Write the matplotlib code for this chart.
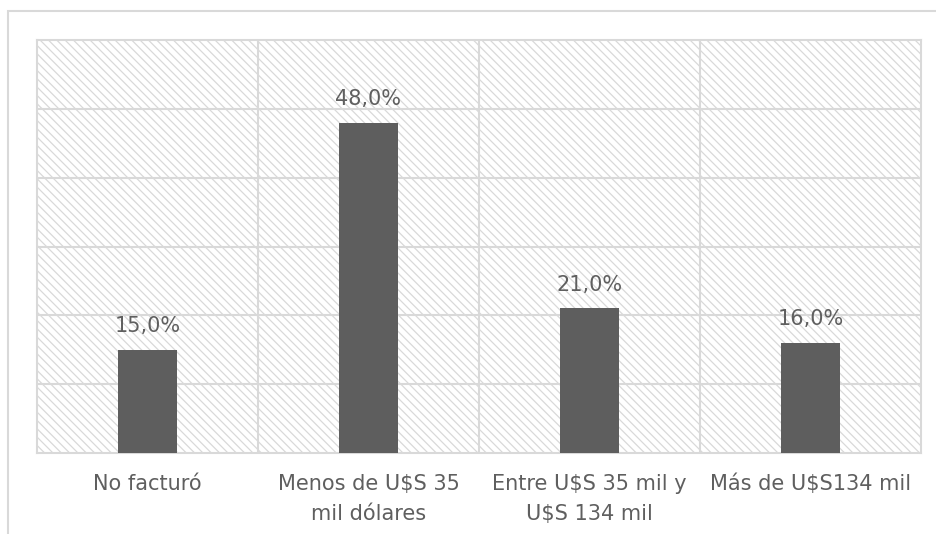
import matplotlib.pyplot as plt
from matplotlib.patches import Rectangle

categories = ['No facturó', 'Menos de U$S 35\nmil dólares',
              'Entre U$S 35 mil y\nU$S 134 mil', 'Más de U$S134 mil']
values = [15.0, 48.0, 21.0, 16.0]

plt.rcParams['hatch.linewidth'] = 0.9
plt.rcParams['hatch.color'] = '#d6d6d6'

text_color = '#5f5f5f'
grid_color = '#d9d9d9'
bar_color = '#5e5e5e'

fig = plt.figure(figsize=(9.37, 5.34), dpi=100)
ax = fig.add_axes([37 / 937, 1 - 453 / 534, (921 - 37) / 937, (453 - 40) / 534])

# hatched plot area background
ax.add_patch(Rectangle((0, 0), 1, 1, transform=ax.transAxes, facecolor='white',
                       edgecolor=grid_color, hatch='\\\\\\\\', linewidth=0, zorder=0))

x = range(len(categories))
ax.bar(x, values, width=0.27, color=bar_color, zorder=3)

for xi, v in zip(x, values):
    ax.annotate(f'{v:.1f}%'.replace('.', ','), (xi, v), xytext=(0, 10),
                textcoords='offset points', ha='center', va='bottom',
                fontsize=15, color=text_color, zorder=4)

ax.set_xlim(-0.5, len(categories) - 0.5)
ax.set_ylim(0, 60)

for y in range(10, 60, 10):
    ax.axhline(y, color=grid_color, lw=1.5, zorder=1)
for b in [0.5, 1.5, 2.5]:
    ax.axvline(b, color=grid_color, lw=1.5, zorder=1)

for s in ax.spines.values():
    s.set_color(grid_color)
    s.set_linewidth(1.5)

ax.set_yticks([])
ax.set_xticks(list(x))
ax.set_xticklabels(categories, fontsize=15, color=text_color, linespacing=1.65)
ax.tick_params(axis='x', length=0, pad=15)

# outer chart border
fig.add_artist(Rectangle((8 / 937, -0.1), 1.0, 1 - 11 / 534 + 0.1,
                         transform=fig.transFigure, fill=False,
                         edgecolor=grid_color, linewidth=1.5))

fig.savefig('out.png', dpi=100)
